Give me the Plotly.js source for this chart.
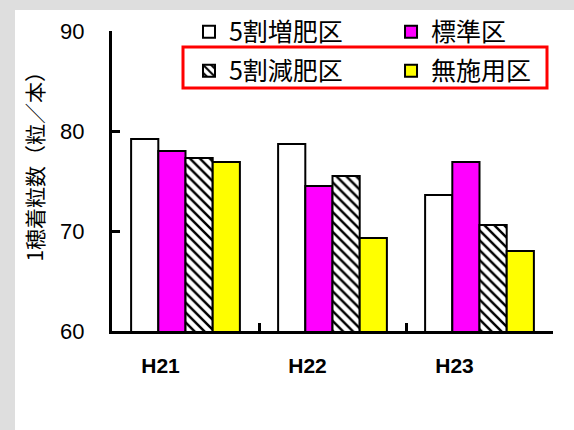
<!DOCTYPE html>
<html>
<head>
<meta charset="utf-8">
<script src="https://cdn.plot.ly/plotly-3.0.1.min.js"></script>
<style>
html,body{margin:0;padding:0;background:#dedede;}
#chart{width:574px;height:430px;}
</style>
</head>
<body>
<div id="chart"></div>
<script>
var categories = ['H21', 'H22', 'H23'];
var seriesNames = ['5割増肥区', '標準区', '5割減肥区', '無施用区'];
var zoubi = [79.2, 78.7, 73.6];     // 5割増肥区
var hyoujun = [78.0, 74.5, 76.9];   // 標準区
var genpi = [77.3, 75.5, 70.6];     // 5割減肥区
var museyou = [76.9, 69.3, 68.0];   // 無施用区
var yTicks = [60, 70, 80, 90];
var yTitle = '1穂着粒数（粒／本）';

var FONT = 'Liberation Sans, Noto Sans CJK JP, sans-serif';
var CJK = 'Noto Sans CJK JP, Liberation Sans, sans-serif';
var edge = {color: '#000000', width: 2};

var traces = [
  {type: 'bar', name: seriesNames[0], x: categories, y: zoubi, legend: 'legend',
   marker: {color: '#ffffff', line: edge}},
  {type: 'bar', name: seriesNames[1], x: categories, y: hyoujun, legend: 'legend2',
   marker: {color: '#ff00ff', line: edge}},
  {type: 'bar', name: seriesNames[2], x: categories, y: genpi, legend: 'legend3',
   marker: {color: '#ffffff', line: edge,
            pattern: {shape: '\\', fgcolor: '#000000', bgcolor: '#ffffff', size: 7, solidity: 0.35}}},
  {type: 'bar', name: seriesNames[3], x: categories, y: museyou, legend: 'legend4',
   marker: {color: '#ffff00', line: edge}}
];

function leg(x, y) {
  return {
    orientation: 'h', x: x, xanchor: 'left', y: y, yanchor: 'middle',
    bgcolor: 'rgba(0,0,0,0)', borderwidth: 0,
    font: {family: CJK, size: 25}, itemwidth: 30
  };
}

var layout = {
  width: 574, height: 430,
  margin: {l: 112, r: 21, t: 31, b: 99, pad: 0, autoexpand: false},
  paper_bgcolor: '#dedede',
  plot_bgcolor: '#ffffff',
  font: {family: FONT, color: '#000000'},
  barmode: 'group',
  bargap: 0.26,
  bargroupgap: 0,
  showlegend: true,
  xaxis: {
    type: 'category',
    range: [-0.5, 2.5],
    showline: true, linecolor: '#000000', linewidth: 3,
    ticks: 'inside', tickson: 'boundaries', ticklen: 8, tickwidth: 3, tickcolor: '#000000',
    showgrid: false, zeroline: false,
    tickfont: {family: 'Liberation Sans Narrow, Liberation Sans, sans-serif', size: 21, weight: 'bold'},
    ticklabelshift: -25,
    ticklabelstandoff: 14
  },
  yaxis: {
    range: [60, 90],
    tickvals: yTicks,
    showline: true, linecolor: '#000000', linewidth: 3,
    ticks: 'inside', ticklen: 8, tickwidth: 3, tickcolor: '#000000',
    showgrid: false, zeroline: false,
    tickfont: {family: FONT, size: 22},
    ticklabelstandoff: 20
  },
  legend: leg(0.1746, 0.9967),
  legend2: leg(0.6327, 0.9967),
  legend3: leg(0.1746, 0.8667),
  legend4: leg(0.6327, 0.8667),
  shapes: [
    {type: 'rect', xref: 'paper', yref: 'paper', layer: 'below',
     x0: -0.22, x1: 1.2, y0: -0.6, y1: 1.07,
     fillcolor: '#ffffff', line: {width: 0}},
    {type: 'rect', xref: 'paper', yref: 'paper', layer: 'above',
     x0: 0.161, x1: 0.9864, y0: 0.81, y1: 0.9467,
     fillcolor: 'rgba(0,0,0,0)', line: {color: '#ff0000', width: 3}}
  ],
  annotations: [
    {text: yTitle, xref: 'paper', yref: 'paper', x: -0.179, y: 0.565,
     xanchor: 'center', yanchor: 'middle', textangle: -90, showarrow: false,
     font: {family: CJK, size: 21}}
  ]
};

Plotly.newPlot('chart', traces, layout, {displayModeBar: false, staticPlot: true});
</script>
</body>
</html>
